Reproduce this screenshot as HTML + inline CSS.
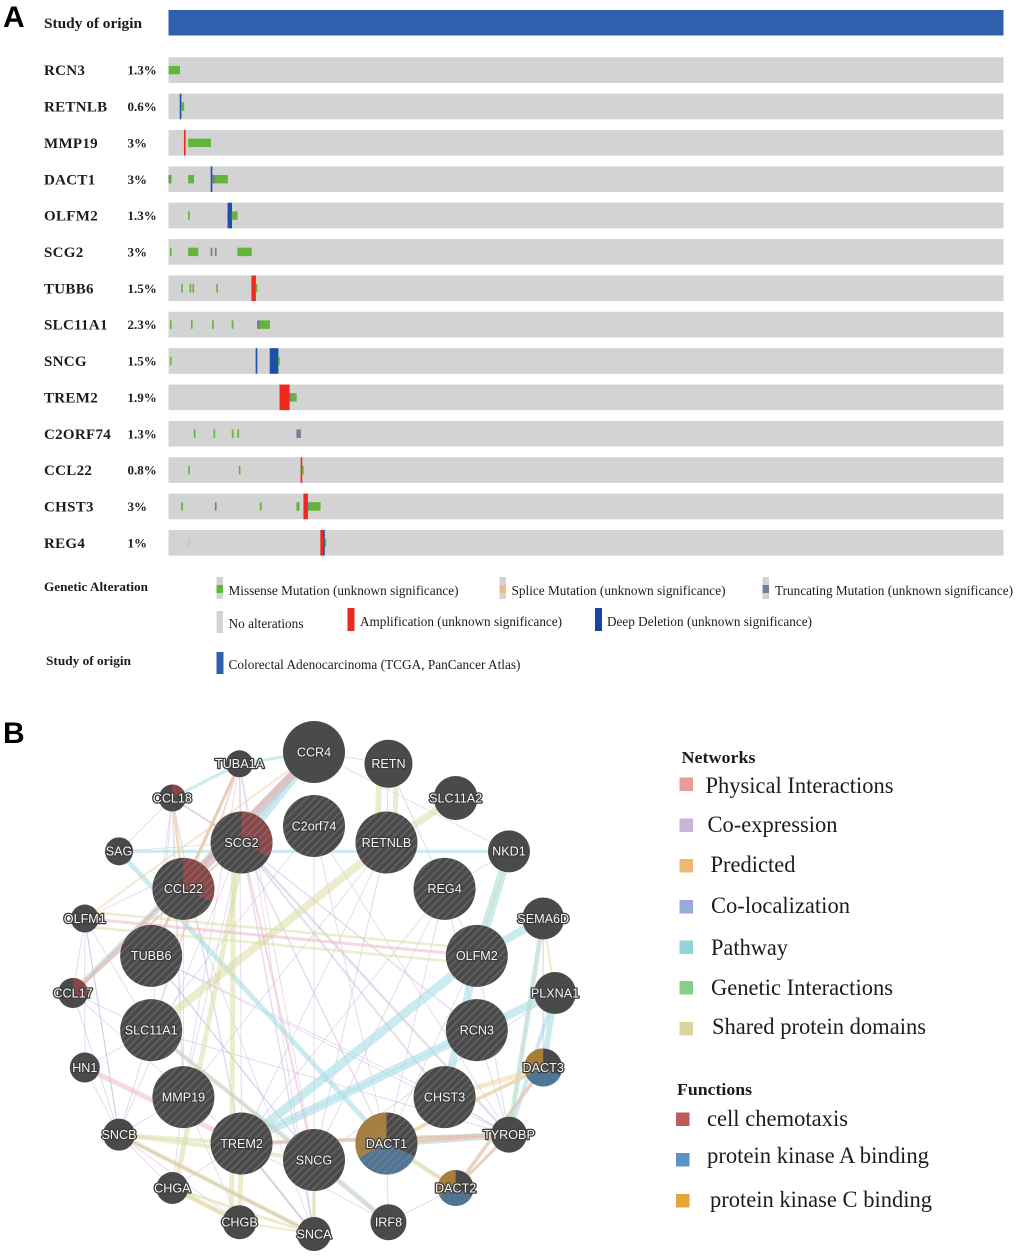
<!DOCTYPE html>
<html lang="en">
<head>
<meta charset="utf-8">
<title>Oncoprint and gene network</title>
<style>
html,body{margin:0;padding:0;background:#fff;width:1020px;height:1259px;overflow:hidden}
svg{display:block;filter:blur(0.35px)}
.s{font-family:"Liberation Serif",serif;fill:#1c1c1c}
.b{font-weight:bold}
.l{font-size:13.5px}
.n{font-size:23px}
.p{font-family:"Liberation Sans",sans-serif;font-weight:bold;font-size:30px;fill:#000}
</style>
</head>
<body>
<svg id="figure" xmlns="http://www.w3.org/2000/svg" width="1020" height="1259" viewBox="0 0 1020 1259">
  <defs>
    <pattern id="hatch" width="5.5" height="5.5" patternUnits="userSpaceOnUse" patternTransform="rotate(-45)">
      <rect x="0" y="0" width="5.5" height="1.2" fill="#8a8a8a" fill-opacity="0.5"></rect>
    </pattern>
  </defs>

  <text class="p" x="3" y="27">A</text>
  <text class="p" x="3" y="743">B</text>

  <text class="s b" x="44" y="28" font-size="15" textLength="98" lengthAdjust="spacingAndGlyphs">Study of origin</text>
  <rect x="168.5" y="10" width="835" height="25.5" fill="#2f60ae"></rect>

  <g id="tracks"></g>

  <g>
    <text class="s b" x="44" y="591" font-size="13" textLength="104" lengthAdjust="spacingAndGlyphs">Genetic Alteration</text>
    <g>
      <rect x="216.5" y="577" width="6.5" height="22" fill="#d3d3d3"></rect><rect x="216.5" y="585" width="6.5" height="8" fill="#62b53a"></rect>
      <text class="s l" x="228.5" y="595" textLength="230" lengthAdjust="spacingAndGlyphs">Missense Mutation (unknown significance)</text>
    </g>
    <g>
      <rect x="499.5" y="577" width="6.5" height="22" fill="#d3d3d3"></rect><rect x="499.5" y="585" width="6.5" height="8" fill="#ecbc86"></rect>
      <text class="s l" x="511.5" y="595" textLength="214" lengthAdjust="spacingAndGlyphs">Splice Mutation (unknown significance)</text>
    </g>
    <g>
      <rect x="762.5" y="577" width="6.5" height="22" fill="#d3d3d3"></rect><rect x="762.5" y="585" width="6.5" height="8" fill="#6f8294"></rect>
      <text class="s l" x="775" y="595" textLength="238" lengthAdjust="spacingAndGlyphs">Truncating Mutation (unknown significance)</text>
    </g>
    <g>
      <rect x="216.5" y="611" width="6.5" height="22" fill="#d3d3d3"></rect>
      <text class="s l" x="228.5" y="628" textLength="75" lengthAdjust="spacingAndGlyphs">No alterations</text>
    </g>
    <g>
      <rect x="347.5" y="608" width="7" height="23" fill="#ea2a1e"></rect>
      <text class="s l" x="360" y="626" textLength="202" lengthAdjust="spacingAndGlyphs">Amplification (unknown significance)</text>
    </g>
    <g>
      <rect x="595" y="608" width="7" height="23" fill="#17459f"></rect>
      <text class="s l" x="607" y="626" textLength="205" lengthAdjust="spacingAndGlyphs">Deep Deletion (unknown significance)</text>
    </g>
    <text class="s b" x="46" y="665" font-size="13" textLength="85" lengthAdjust="spacingAndGlyphs">Study of origin</text>
    <g>
      <rect x="216.5" y="652" width="7" height="22" fill="#2f60ae"></rect>
      <text class="s l" x="228.5" y="669" textLength="292" lengthAdjust="spacingAndGlyphs">Colorectal Adenocarcinoma (TCGA, PanCancer Atlas)</text>
    </g>
  </g>

  <g id="edges"></g>
  <g id="nodes"></g>

  <g>
    <text class="s b" x="681.5" y="763" font-size="17" textLength="74" lengthAdjust="spacingAndGlyphs">Networks</text>
    <g><rect x="679.5" y="777.5" width="13.5" height="13.5" fill="#e89ba0"></rect><text class="s n" x="705.5" y="793" textLength="188" lengthAdjust="spacingAndGlyphs">Physical Interactions</text></g>
    <g><rect x="679.5" y="818.5" width="13.5" height="13.5" fill="#c9b3d6"></rect><text class="s n" x="707.5" y="832" textLength="130" lengthAdjust="spacingAndGlyphs">Co-expression</text></g>
    <g><rect x="679.5" y="859" width="13.5" height="13.5" fill="#ecb873"></rect><text class="s n" x="710.5" y="872" textLength="85" lengthAdjust="spacingAndGlyphs">Predicted</text></g>
    <g><rect x="679.5" y="900" width="13.5" height="13.5" fill="#98aad8"></rect><text class="s n" x="711" y="913" textLength="139" lengthAdjust="spacingAndGlyphs">Co-localization</text></g>
    <g><rect x="679.5" y="940.5" width="13.5" height="13.5" fill="#93d4da"></rect><text class="s n" x="711" y="955" textLength="77" lengthAdjust="spacingAndGlyphs">Pathway</text></g>
    <g><rect x="679.5" y="981" width="13.5" height="13.5" fill="#88cd88"></rect><text class="s n" x="711" y="995" textLength="182" lengthAdjust="spacingAndGlyphs">Genetic Interactions</text></g>
    <g><rect x="679.5" y="1022" width="13.5" height="13.5" fill="#d8d69e"></rect><text class="s n" x="712" y="1034" textLength="214" lengthAdjust="spacingAndGlyphs">Shared protein domains</text></g>
    <text class="s b" x="677" y="1095" font-size="17" textLength="75" lengthAdjust="spacingAndGlyphs">Functions</text>
    <g><rect x="676" y="1112.5" width="13.5" height="13.5" fill="#c05a5a"></rect><text class="s n" x="707" y="1126" textLength="141" lengthAdjust="spacingAndGlyphs">cell chemotaxis</text></g>
    <g><rect x="676" y="1153" width="13.5" height="13.5" fill="#5b94c4"></rect><text class="s n" x="707" y="1163" textLength="222" lengthAdjust="spacingAndGlyphs">protein kinase A binding</text></g>
    <g><rect x="676" y="1194" width="13.5" height="13.5" fill="#e3a63a"></rect><text class="s n" x="710" y="1207" textLength="222" lengthAdjust="spacingAndGlyphs">protein kinase C binding</text></g>
  </g>
</svg>

<script>
/* ---------- Oncoprint data: sample index + sample count for each altered block ---------- */
const geneNames = ["RCN3","RETNLB","MMP19","DACT1","OLFM2","SCG2","TUBB6","SLC11A1","SNCG","TREM2","C2ORF74","CCL22","CHST3","REG4"];
const genePercents = ["1.3%","0.6%","3%","3%","1.3%","3%","1.5%","2.3%","1.5%","1.9%","1.3%","0.8%","3%","1%"];
const sampleCount = 594;
const alterationsByGene = [
  [["mis",0,8]],
  [["del",8,1],["mis",9,2]],
  [["amp",11,1],["mis",14,16]],
  [["trn",0,1],["mis",1,1],["mis",14,4],["del",30,1],["trn",31,2],["mis",33,9]],
  [["mis",14,1],["del",42,3],["mis",45,4]],
  [["mis",1,1],["mis",14,7],["trn",30,1],["trn",33,1],["mis",49,10]],
  [["mis",9,1],["mis",15,1],["mis",17,1],["mis",34,1],["amp",59,3],["mis",62,1]],
  [["mis",1,1],["mis",16,1],["mis",31,1],["mis",45,1],["trn",63,2],["mis",65,7]],
  [["mis",1,1],["del",62,1],["del",72,6],["mis",78,1]],
  [["amp",79,7],["trn",86,1],["mis",87,4]],
  [["mis",18,1],["mis",32,1],["mis",45,1],["mis",49,1],["trn",91,3]],
  [["mis",14,1],["mis",50,1],["amp",94,1],["mis",95,1]],
  [["mis",9,1],["trn",33,1],["mis",65,1],["mis",91,2],["amp",96,3],["trn",99,1],["mis",100,8]],
  [["spl",14,1],["amp",108,2],["del",110,1],["mis",111,1]]
];

/* ---------- Network data: rings, node sizes, annotations, edges ---------- */
const outerRing = ["CCR4","RETN","SLC11A2","NKD1","SEMA6D","PLXNA1","DACT3","TYROBP","DACT2","IRF8","SNCA","CHGB","CHGA","SNCB","HN1","CCL17","OLFM1","SAG","CCL18","TUBA1A"];
const innerRing = ["C2orf74","RETNLB","REG4","OLFM2","RCN3","CHST3","DACT1","SNCG","TREM2","MMP19","SLC11A1","TUBB6","CCL22","SCG2"];
const outerScores = [31,24,22,21,21,21,19,18,18,18,17,17,16,16,15,15,14,14,13.5,13.5];
const functionSlices = {
  CCL22:[["chem",0,115]],
  SCG2:[["chem",0,118]],
  CCL18:[["chem",0,55]],
  CCL17:[["chem",0,110]],
  DACT1:[["pka",114,242],["pkc",242,360]],
  DACT2:[["pka",114,242],["pkc",242,360]],
  DACT3:[["pka",114,242],["pkc",242,360]]
};
const pathwayEdges = [["OLFM2","NKD1",9],["OLFM2","SEMA6D",8],["TREM2","OLFM2",9],["TREM2","RCN3",9],["CHST3","OLFM2",8],["RCN3","PLXNA1",8],["DACT3","PLXNA1",6],["TYROBP","SEMA6D",5],["TYROBP","PLXNA1",4],["SAG","DACT1",5],["SNCG","IRF8",5],["SAG","NKD1",3],["CCL18","TUBA1A",3],["TUBA1A","CCR4",3],["SCG2","CCR4",9],["CCL22","CCR4",8],["CCL17","CCR4",6],["DACT1","TYROBP",7],["TREM2","TYROBP",4],["SLC11A1","SNCG",4],["TREM2","SNCA",2],["SNCB","SNCA",2]];
const sharedEdges = [["SLC11A1","RETNLB",8],["RETNLB","SLC11A2",7],["RETN","RETNLB",5,-8],["RETN","RETNLB",6,9],["SCG2","CHGB",5,8],["SCG2","CHGA",5,-3],["CHGA","CHGB",5],["CHGB","TREM2",5],["SNCB","SNCA",5],["SNCB","TREM2",4],["SNCB","SNCG",4],["SNCG","SNCA",4],["CHGA","SNCA",3],["CHGB","SNCA",2],["DACT1","DACT2",5],["DACT2","DACT3",4],["DACT1","DACT3",4],["OLFM1","OLFM2",2.5,-7],["OLFM1","OLFM2",2.5,8],["NKD1","OLFM2",2],["SEMA6D","TYROBP",2],["DACT2","TYROBP",4],["CCL18","CCL22",2],["CCL17","SCG2",2],["TUBA1A","CCL22",3],["TUBB6","TUBA1A",3]];
const physicalEdges = [["HN1","TREM2",5],["CCL22","CCR4",9],["CCL17","CCR4",3],["OLFM1","OLFM2",3],["SCG2","SNCG",2],["SLC11A1","TUBA1A",2],["TUBA1A","TUBB6",2.5],["DACT2","DACT3",3],["DACT2","TYROBP",2],["DACT1","TYROBP",2],["TREM2","TYROBP",2],["SNCA","SNCB",2],["SNCA","TREM2",2],["CCL18","SCG2",2],["SCG2","CCL17",2]];
const predictedEdges = [["CCL18","CCL22",3],["SLC11A1","IRF8",3],["TYROBP","DACT1",5],["TYROBP","TREM2",4],["DACT3","CHST3",5],["DACT3","DACT1",3],["SEMA6D","PLXNA1",2],["CCL17","CCR4",3],["CHGA","CHGB",3],["DACT1","DACT2",2],["OLFM1","CCR4",2]];
const coexpressionEdges = [["CCL18","TREM2",1.5],["CCL18","MMP19",1.5],["CCL18","SLC11A1",1],["CCL18","TUBB6",1],["CCL18","SAG",1],["CCL18","SCG2",1],["SAG","SCG2",1],["OLFM1","SNCB",1],["OLFM1","CCL17",1],["OLFM1","HN1",1],["OLFM1","SLC11A1",1],["OLFM1","SCG2",1],["SCG2","RCN3",1.5],["SCG2","CHST3",2],["SCG2","DACT1",1.5],["SCG2","MMP19",1],["SCG2","SNCB",1],["SCG2","SNCA",1.5],["SCG2","TYROBP",2.5],["TUBA1A","SNCA",1],["TUBA1A","SNCG",1],["TUBA1A","TREM2",1],["TUBA1A","MMP19",1],["CCR4","RETN",1],["CCR4","NKD1",1],["C2orf74","SNCG",1],["C2orf74","TYROBP",1],["C2orf74","DACT1",1],["C2orf74","SLC11A1",1],["RETNLB","TREM2",1],["RETNLB","MMP19",1],["REG4","SNCG",1],["REG4","TREM2",1],["REG4","DACT1",1],["REG4","OLFM2",1],["REG4","NKD1",1],["TUBB6","CHST3",1],["TUBB6","SNCG",1],["TUBB6","TYROBP",1],["CCL22","SNCA",1],["CCL22","TUBB6",1],["CCL22","MMP19",1],["CCL17","SLC11A1",1],["CCL17","CCL22",1],["CCL17","TREM2",1],["HN1","SLC11A1",1],["HN1","SNCB",1],["SNCB","CHGB",1],["SNCB","CHGA",1],["CHGA","TREM2",1],["MMP19","CHGB",1],["SNCG","PLXNA1",1],["RCN3","TREM2",1],["CHST3","TYROBP",1],["IRF8","DACT2",1],["IRF8","TREM2",1],["OLFM2","DACT1",1],["SEMA6D","DACT3",1.5]];
const colocalizationEdges = [["RETNLB","SNCG",1],["RETN","REG4",1],["RETN","RETNLB",1],["OLFM1","SNCB",1],["CCL17","SNCB",1],["SNCB","SLC11A1",1],["SLC11A1","TYROBP",1],["REG4","RCN3",1],["OLFM2","TYROBP",1],["RCN3","TYROBP",1],["CHST3","TYROBP",1],["SNCB","MMP19",1],["TUBB6","SNCG",1],["SNCG","SNCA",1],["DACT1","IRF8",1],["DACT2","TYROBP",1],["TUBA1A","SCG2",1],["CCR4","SCG2",1],["CHGA","MMP19",1]];

/* ---------- Scales and styles ---------- */
const NS = "http://www.w3.org/2000/svg";
const trackLeft = 168.5, trackWidth = 835, trackTop = 57.3, trackStep = 36.36, trackHeight = 25.6;
const altStyle = {
  mis:{fill:"#62b53a",full:false,name:"missense"},
  spl:{fill:"#ecbc86",full:false,name:"splice"},
  trn:{fill:"#6f8294",full:false,name:"truncating"},
  amp:{fill:"#ee2a1e",full:true,name:"amplification"},
  del:{fill:"#1f50a8",full:true,name:"deep-deletion"}
};
const ringCenterX = 314, ringCenterY = 993, outerRadius = 241, innerRadius = 167, innerNodeSize = 31;
const sliceColor = {chem:"#8b4748",pka:"#4f7596",pkc:"#a67f3a"};

function sampleX(i){ return trackLeft + i * trackWidth / sampleCount; }
function trackY(i){ return trackTop + i * trackStep; }
function make(tag, attrs, parent){
  const el = document.createElementNS(NS, tag);
  for (const k in attrs) el.setAttribute(k, attrs[k]);
  parent.appendChild(el);
  return el;
}
function slug(s){ return s.toLowerCase(); }

/* ---------- Draw oncoprint ---------- */
const tracksGroup = document.getElementById("tracks");
geneNames.forEach(function(gene, g){
  const y = trackY(g);
  const row = make("g", {}, tracksGroup);
  
  

  const label = make("text", {x:44, y:y+17.9, class:"s b", "font-size":15, "letter-spacing":"0.3"}, row);
  label.textContent = gene;
  
  

  const pct = make("text", {x:127.5, y:y+17.4, class:"s b", "font-size":13}, row);
  pct.textContent = genePercents[g];
  
  

  const bg = make("rect", {x:trackLeft, y:y, width:trackWidth, height:trackHeight, fill:"#d3d3d3"}, row);
  
  

  alterationsByGene[g].forEach(function(a){
    const st = altStyle[a[0]];
    const h = st.full ? trackHeight : trackHeight * 0.33;
    const top = y + (trackHeight - h) / 2;
    const mark = make("rect", {x:sampleX(a[1]), y:top, width:a[2]*trackWidth/sampleCount+0.25, height:h, fill:st.fill}, row);
    
    
  });
});

/* ---------- Draw network ---------- */
const nodePos = {};
outerRing.forEach(function(n, i){
  const t = i / outerRing.length * 2 * Math.PI;
  nodePos[n] = {x:ringCenterX + outerRadius*Math.sin(t), y:ringCenterY - outerRadius*Math.cos(t), r:outerScores[i], hatched:false};
});
innerRing.forEach(function(n, i){
  const t = i / innerRing.length * 2 * Math.PI;
  nodePos[n] = {x:ringCenterX + innerRadius*Math.sin(t), y:ringCenterY - innerRadius*Math.cos(t), r:innerNodeSize, hatched:true};
});

const edgeGroup = document.getElementById("edges");
const edgeLayers = [
  [coexpressionEdges,"#c3aed6",0.42,"coexpression"],
  [colocalizationEdges,"#9fb0e0",0.42,"colocalization"],
  [pathwayEdges,"#a6dde6",0.6,"pathway"],
  [sharedEdges,"#dcdca8",0.55,"shared-domain"],
  [predictedEdges,"#f2cda0",0.5,"predicted"],
  [physicalEdges,"#eeb4bc",0.5,"physical"]
];
edgeLayers.forEach(function(layer){
  layer[0].forEach(function(e){
    const a = nodePos[e[0]], b = nodePos[e[1]];
    const off = e[3] || 0;
    const dx = b.x-a.x, dy = b.y-a.y, len = Math.hypot(dx,dy);
    const ox = -dy/len*off, oy = dx/len*off;
    const line = make("line", {x1:a.x+ox, y1:a.y+oy, x2:b.x+ox, y2:b.y+oy, stroke:layer[1], "stroke-opacity":layer[2], "stroke-width":e[2]}, edgeGroup);
    
    
  });
});

function arcPath(cx, cy, r, d0, d1){
  const a0 = d0*Math.PI/180, a1 = d1*Math.PI/180;
  const large = (d1-d0) > 180 ? 1 : 0;
  return "M"+cx+" "+cy+"L"+(cx+r*Math.sin(a0))+" "+(cy-r*Math.cos(a0))+"A"+r+" "+r+" 0 "+large+" 1 "+(cx+r*Math.sin(a1))+" "+(cy-r*Math.cos(a1))+"Z";
}
const nodeGroup = document.getElementById("nodes");
outerRing.concat(innerRing).forEach(function(n){
  const p = nodePos[n];
  const g = make("g", {}, nodeGroup);
  
  

  const c = make("circle", {cx:p.x, cy:p.y, r:p.r, fill:"#4a4a4a"}, g);
  
  

  (functionSlices[n] || []).forEach(function(s){
    const slice = make("path", {d:arcPath(p.x,p.y,p.r,s[1],s[2]), fill:sliceColor[s[0]]}, g);
    
    
  });
  if (p.hatched) {
    const h = make("circle", {cx:p.x, cy:p.y, r:p.r, fill:"url(#hatch)"}, g);
    
    
  }
  const t = make("text", {x:p.x, y:p.y+4.3, "text-anchor":"middle", "font-family":"Liberation Sans, sans-serif", "font-size":12.6, fill:"#f4f4f4", stroke:"#3c3c3c", "stroke-width":2.6, "paint-order":"stroke", "stroke-linejoin":"round"}, g);
  t.textContent = n;
  
  
});
</script>
</body>
</html>
